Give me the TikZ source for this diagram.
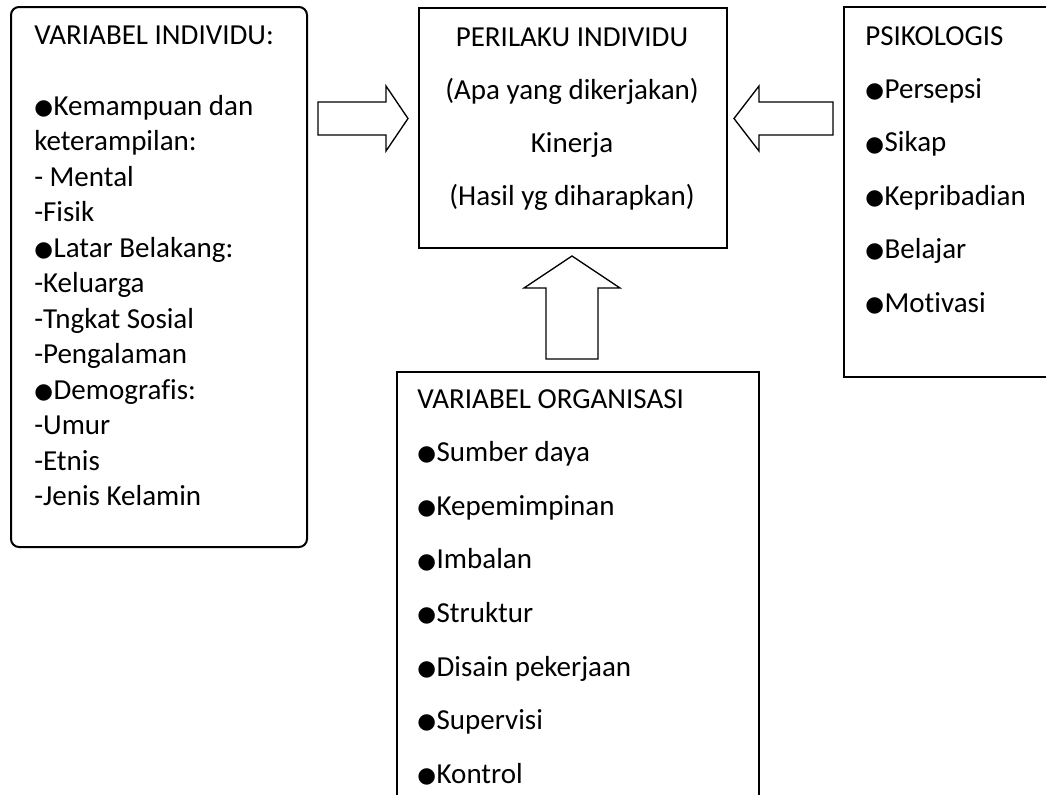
\documentclass[tikz,border=0pt]{standalone}
\usepackage{fontspec}
\setmainfont{Carlito}[Ligatures=NoCommon]
\newfontfamily\symfont{DejaVu Sans}[Scale=0.74]
\newcommand{\mybul}{{\symfont\raisebox{0.5pt}{●}}\kern0.5pt}
\begin{document}
\begin{tikzpicture}[x=0.75pt,y=-0.75pt,
  boxline/.style={draw=black,line width=1.5pt,fill=white},
  blockarrow/.style={draw=black,line width=1pt,fill=white,line join=miter},
  txt/.style={inner sep=0pt,font=\fontsize{21.75pt}{26pt}\selectfont,text=black}]
\useasboundingbox (0,0) rectangle (1046,794);
\begin{scope}
\clip (0,0) rectangle (1046,794);
% boxes
\node[boxline,rounded corners=6pt,anchor=north west,minimum width=296*0.75pt,minimum height=540*0.75pt,inner sep=0pt] (indiv) at (10,6) {};
\node[boxline,anchor=north west,minimum width=308*0.75pt,minimum height=240*0.75pt,inner sep=0pt] (perilaku) at (418,7) {};
\node[boxline,anchor=north west,minimum width=230*0.75pt,minimum height=370*0.75pt,inner sep=0pt] (psiko) at (843,6) {};
\node[boxline,anchor=north west,minimum width=362*0.75pt,minimum height=460*0.75pt,inner sep=0pt] (organ) at (396,371) {};
% block arrows
\draw[blockarrow] (318,102) -- (386,102) -- (386,86) -- (408,118.5) -- (386,151) -- (386,135) -- (318,135) -- cycle;
\draw[blockarrow] (833,102) -- (759,102) -- (759,86) -- (734,118.5) -- (759,151) -- (759,135) -- (833,135) -- cycle;
\draw[blockarrow] (546,359) -- (546,288) -- (524,288) -- (572,256) -- (620,288) -- (598,288) -- (598,359) -- cycle;
% left box text
\node[txt,anchor=base west] (t0) at (34,44) {VARIABEL INDIVIDU:};
\foreach \s [count=\i from 0] in {{\mybul Kemampuan dan},{keterampilan:},{- Mental},{-Fisik},{\mybul Latar Belakang:},{-Keluarga},{-Tngkat Sosial},{-Pengalaman},{\mybul Demografis:},{-Umur},{-Etnis},{-Jenis Kelamin}}
  \node[txt,anchor=base west] (ti\i) at (34,115+35.5*\i) {\s};
% center box text
\foreach \s [count=\i from 0] in {{PERILAKU INDIVIDU},{(Apa yang dikerjakan)},{Kinerja},{(Hasil yg diharapkan)}}
  \node[txt,anchor=base] (tc\i) at (572,46+53*\i) {\s};
% right box text
\foreach \s [count=\i from 0] in {{PSIKOLOGIS},{\mybul Persepsi},{\mybul Sikap},{\mybul Kepribadian},{\mybul Belajar},{\mybul Motivasi}}
  \node[txt,anchor=base west] (tp\i) at (865,45+53.4*\i) {\s};
% bottom box text
\foreach \s [count=\i from 0] in {{VARIABEL ORGANISASI},{\mybul Sumber daya},{\mybul Kepemimpinan},{\mybul Imbalan},{\mybul Struktur},{\mybul Disain pekerjaan},{\mybul Supervisi},{\mybul Kontrol}}
  \node[txt,anchor=base west] (to\i) at (417,408+53.6*\i) {\s};
\end{scope}
\end{tikzpicture}
\end{document}
